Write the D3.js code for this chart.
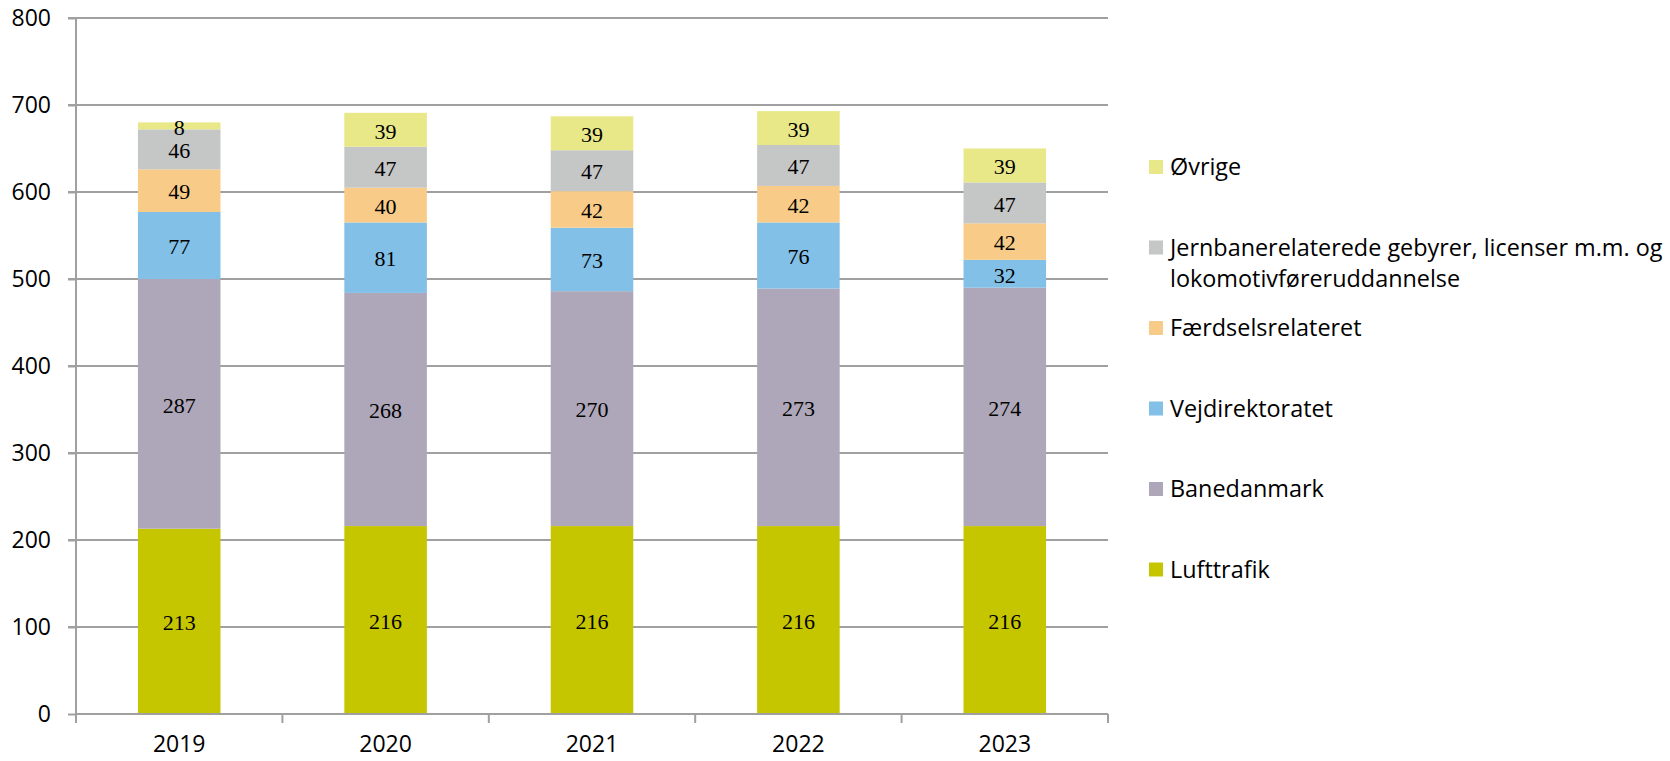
<!DOCTYPE html>
<html>
<head>
<meta charset="utf-8">
<script src="https://cdn.jsdelivr.net/npm/d3@7"></script>
<style>
  body { margin: 0; background: #fff; }
  .axis text { font-family: "Open Sans", sans-serif; fill: #000; }
</style>
</head>
<body>
<div id="chart"></div>
<script>
const years = ["2019", "2020", "2021", "2022", "2023"];
const seriesNames = ["Lufttrafik", "Banedanmark", "Vejdirektoratet", "Færdselsrelateret",
  "Jernbanerelaterede gebyrer, licenser m.m. og lokomotivføreruddannelse", "Øvrige"];
const lufttrafik = [213, 216, 216, 216, 216];
const banedanmark = [287, 268, 270, 273, 274];
const vejdirektoratet = [77, 81, 73, 76, 32];
const faerdsel = [49, 40, 42, 42, 42];
const jernbane = [46, 47, 47, 47, 47];
const oevrige = [8, 39, 39, 39, 39];
const yTicks = [0, 100, 200, 300, 400, 500, 600, 700, 800];
const colors = ["#c6c600", "#aea7b9", "#82c0e8", "#f8cc88", "#c5c6c6", "#e8e888"];

const allSeries = [lufttrafik, banedanmark, vejdirektoratet, faerdsel, jernbane, oevrige];
const rows = years.map((y, i) => {
  const r = {year: y};
  seriesNames.forEach((s, k) => r[s] = allSeries[k][i]);
  return r;
});

const width = 1670, height = 761;
const plotLeft = 76, plotRight = 1108, plotTop = 18, plotBottom = 714;

const svg = d3.select("#chart").append("svg")
  .attr("width", width).attr("height", height);

const x = d3.scaleBand().domain(years).range([plotLeft, plotRight]).padding(0);
const y = d3.scaleLinear().domain([0, 800]).range([plotBottom, plotTop]);

// gridlines
svg.append("g").selectAll("line")
  .data(yTicks.filter(d => d > 0))
  .enter().append("line")
  .attr("x1", plotLeft - 8).attr("x2", plotRight)
  .attr("y1", d => y(d)).attr("y2", d => y(d))
  .attr("stroke", "#a0a0a0").attr("stroke-width", 2);

// stacked bars
const stack = d3.stack().keys(seriesNames)(rows);
const barW = x.bandwidth() * 0.4;
const layers = svg.append("g").selectAll("g")
  .data(stack).enter().append("g")
  .attr("fill", (d, i) => colors[i]);
layers.selectAll("rect")
  .data(d => d).enter().append("rect")
  .attr("x", d => x(d.data.year) + (x.bandwidth() - barW) / 2)
  .attr("width", barW)
  .attr("y", d => y(d[1]))
  .attr("height", d => y(d[0]) - y(d[1]));

// value labels
const labels = svg.append("g").selectAll("g")
  .data(stack).enter().append("g");
labels.selectAll("text")
  .data(d => d.map(v => ({v, val: v[1] - v[0]})))
  .enter().append("text")
  .attr("x", d => x(d.v.data.year) + x.bandwidth() / 2)
  .attr("y", d => (y(d.v[0]) + y(d.v[1])) / 2)
  .attr("dy", "0.4em")
  .attr("text-anchor", "middle")
  .attr("font-family", "'Liberation Serif', serif")
  .attr("font-size", "22px")
  .attr("fill", "#000")
  .text(d => d.val);

// y axis
const yAxis = svg.append("g").classed("axis", true)
  .attr("transform", "translate(" + plotLeft + ",0)")
  .call(d3.axisLeft(y).tickValues(yTicks).tickSize(8).tickPadding(17));
yAxis.selectAll("line").attr("stroke", "#a0a0a0").attr("stroke-width", 2);
yAxis.select(".domain").attr("d", "M0," + (plotBottom + 9) + "V" + plotTop)
  .attr("stroke", "#a0a0a0").attr("stroke-width", 2);
yAxis.selectAll("text").attr("font-size", "23px");

// x axis
const xAxis = svg.append("g").classed("axis", true)
  .attr("transform", "translate(0," + plotBottom + ")")
  .call(d3.axisBottom(x).tickSize(0).tickPadding(22));
xAxis.select(".domain").attr("d", "M" + plotLeft + ",0H" + plotRight)
  .attr("stroke", "#a0a0a0").attr("stroke-width", 2);
xAxis.selectAll("text").attr("font-size", "23px");
xAxis.append("g").selectAll("line")
  .data(years.concat(["end"])).enter().append("line")
  .attr("x1", (d, i) => plotLeft + i * x.step()).attr("x2", (d, i) => plotLeft + i * x.step())
  .attr("y1", 0).attr("y2", 9)
  .attr("stroke", "#a0a0a0").attr("stroke-width", 2);

// legend
const legendItems = seriesNames.slice().reverse();
const legendColors = colors.slice().reverse();
const legendY = d3.scalePoint().domain(legendItems).range([167, 569.5]);
const legend = svg.append("g").selectAll("g")
  .data(legendItems).enter().append("g")
  .attr("transform", d => "translate(1149," + legendY(d) + ")");
legend.append("rect")
  .attr("x", 0).attr("y", -7).attr("width", 14).attr("height", 14)
  .attr("fill", (d, i) => legendColors[i]);
legend.append("text")
  .attr("x", 21)
  .attr("font-family", "'Open Sans', sans-serif")
  .attr("font-size", "23.4px")
  .attr("fill", "#000")
  .each(function(d) {
    const t = d3.select(this);
    const lines = d.startsWith("Jernbane")
      ? ["Jernbanerelaterede gebyrer, licenser m.m. og", "lokomotivføreruddannelse"] : [d];
    lines.forEach((l, j) => t.append("tspan").attr("x", 21)
      .attr("y", j * 31).attr("dy", "0.35em").text(l));
  });
</script>
</body>
</html>
